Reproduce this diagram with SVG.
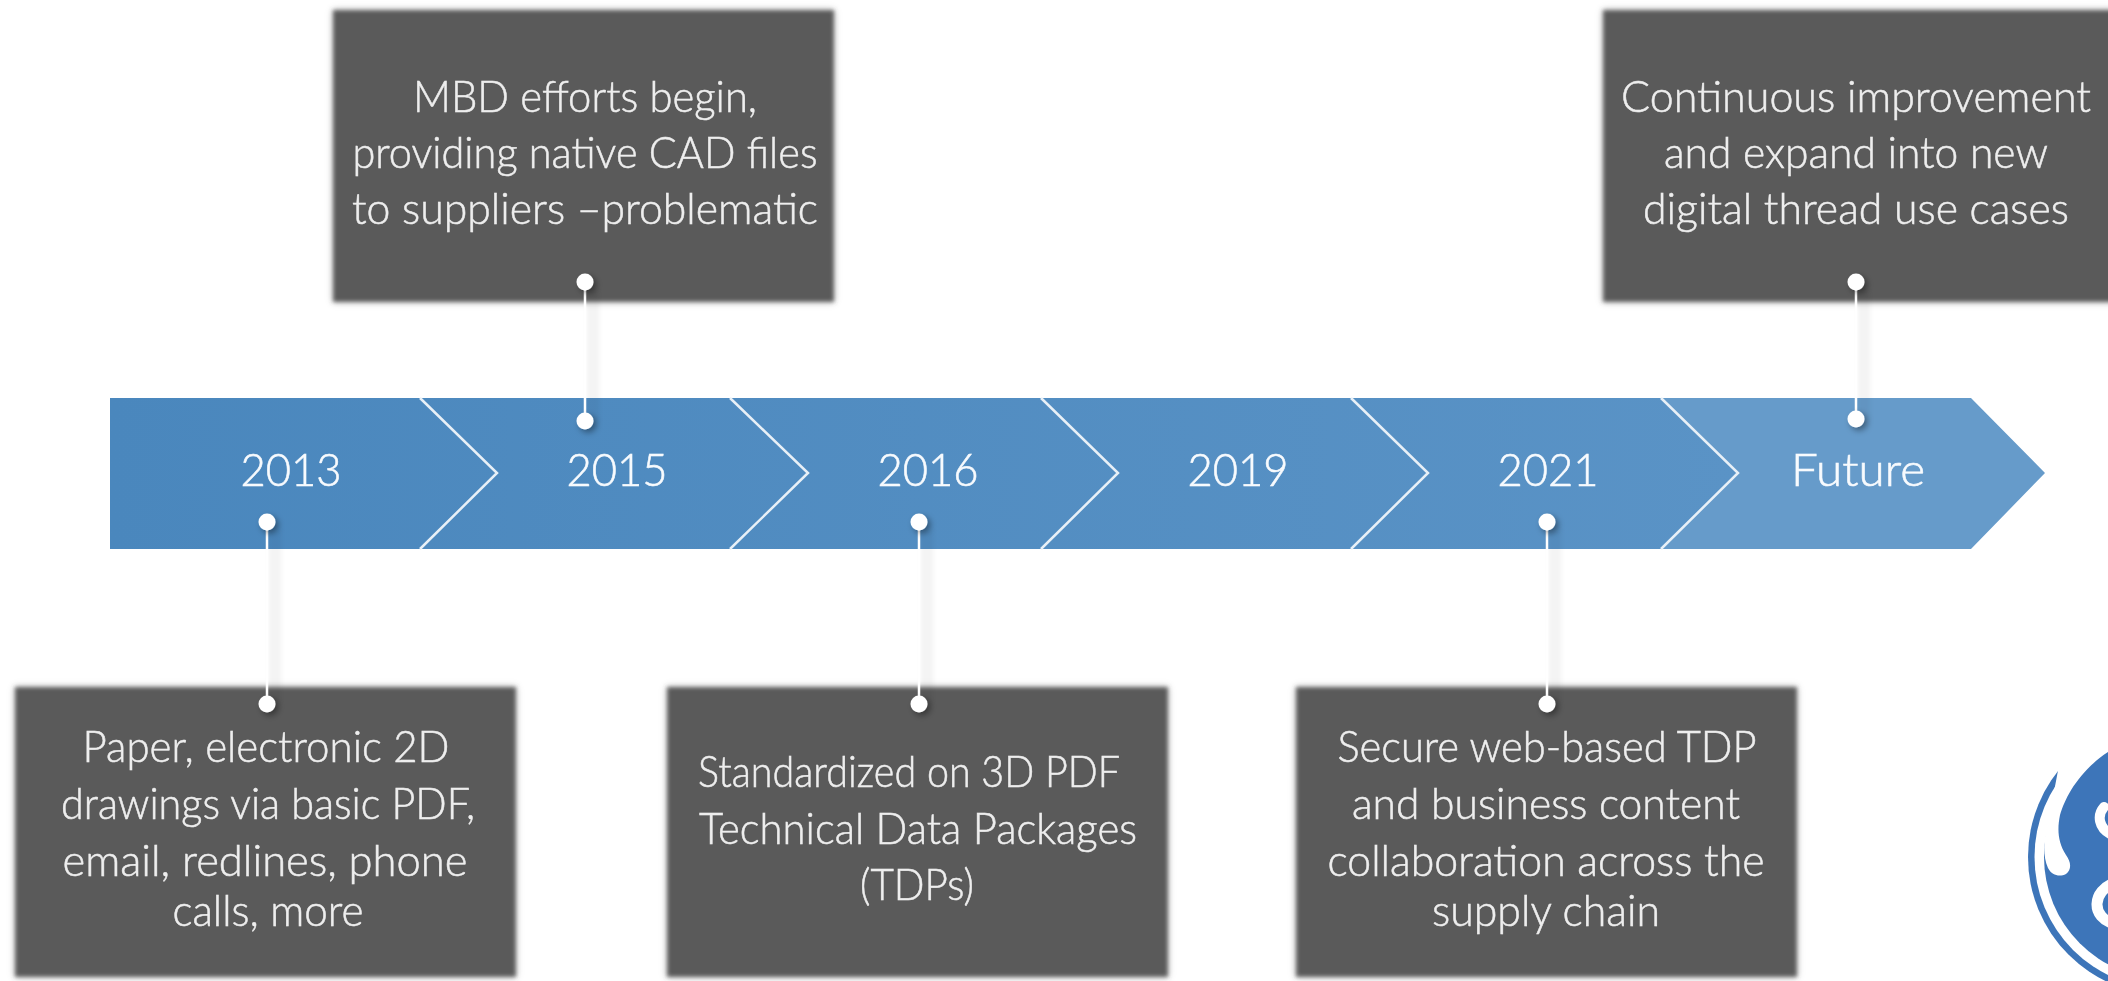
<svg xmlns="http://www.w3.org/2000/svg" width="2108" height="981" viewBox="0 0 2108 981">
<style>
text{font-family:Lato,"Liberation Sans",sans-serif;font-weight:300;text-anchor:middle;filter:url(#tb)}
.box{fill:#5a5a5a;filter:url(#soft)}
.t{fill:#eeeeee;stroke:#eeeeee;stroke-width:.5;font-size:43px}
.y{fill:#f8fbfe;stroke:#f8fbfe;stroke-width:.6;font-size:46px}
.dot{fill:#fff;filter:url(#ds)}
.ln{stroke:#fff;stroke-width:2.5}
.sh{stroke:#000;stroke-opacity:.045;stroke-width:13;filter:url(#b2);fill:none}
.sep{fill:none;stroke:#e8f0f7;stroke-width:2.5}
</style>
<defs>
<filter id="tb" x="-5%" y="-20%" width="110%" height="140%"><feGaussianBlur stdDeviation=".45"/></filter>
<filter id="soft" x="-5%" y="-5%" width="110%" height="110%"><feDropShadow dx="0" dy="0" stdDeviation="3" flood-color="#000" flood-opacity=".25"/><feGaussianBlur stdDeviation="2"/></filter>
<filter id="b2" filterUnits="userSpaceOnUse" x="0" y="0" width="2108" height="981"><feGaussianBlur stdDeviation="2"/></filter>
<filter id="ds" x="-100%" y="-100%" width="300%" height="300%"><feDropShadow dx="3" dy="3" stdDeviation="3" flood-color="#000" flood-opacity=".4"/></filter>
<linearGradient id="band" gradientUnits="userSpaceOnUse" x1="110" y1="0" x2="1738" y2="0"><stop offset="0" stop-color="#4a87bd"/><stop offset="1" stop-color="#5a93c6"/></linearGradient>
</defs>
<g id="band-arrow">
<path d="M110 398H1700L1738 473L1700 549H110Z" fill="url(#band)"/>
<path d="M1661 398H1971L2045 473L1971 549H1661L1738 473Z" fill="#669bca"/>
<path class="sep" d="M420 398L497 473L420 549M730 398L808 473L730 549M1041 398L1118 473L1041 549M1351 398L1428 473L1351 549M1661 398L1738 473L1661 549"/>
</g>
<g id="box-2013"><rect class="box" x="15" y="687" width="501" height="290"/><text class="t" x="266" y="762" textLength="367" lengthAdjust="spacingAndGlyphs">Paper, electronic 2D</text><text class="t" x="268" y="819" textLength="414" lengthAdjust="spacingAndGlyphs">drawings via basic PDF,</text><text class="t" x="265" y="876" textLength="405" lengthAdjust="spacingAndGlyphs">email, redlines, phone</text><text class="t" x="268" y="926" textLength="191" lengthAdjust="spacingAndGlyphs">calls, more</text></g>
<g id="box-2015"><rect class="box" x="333" y="10" width="501" height="292"/><text class="t" x="585" y="112" textLength="344" lengthAdjust="spacingAndGlyphs">MBD efforts begin,</text><text class="t" x="585" y="168" textLength="465" lengthAdjust="spacingAndGlyphs">providing native CAD files</text><text class="t" x="585" y="224" textLength="466" lengthAdjust="spacingAndGlyphs">to suppliers –problematic</text></g>
<g id="box-2016"><rect class="box" x="667" y="687" width="501" height="290"/><text class="t" x="909" y="787" textLength="422" lengthAdjust="spacingAndGlyphs">Standardized on 3D PDF</text><text class="t" x="918" y="844" textLength="438" lengthAdjust="spacingAndGlyphs">Technical Data Packages</text><text class="t" x="917" y="900" textLength="114" lengthAdjust="spacingAndGlyphs">(TDPs)</text></g>
<g id="box-2021"><rect class="box" x="1296" y="687" width="501" height="290"/><text class="t" x="1547" y="762" textLength="419" lengthAdjust="spacingAndGlyphs">Secure web-based TDP</text><text class="t" x="1546" y="819" textLength="388" lengthAdjust="spacingAndGlyphs">and business content</text><text class="t" x="1546" y="876" textLength="437" lengthAdjust="spacingAndGlyphs">collaboration across the</text><text class="t" x="1546" y="926" textLength="228" lengthAdjust="spacingAndGlyphs">supply chain</text></g>
<g id="box-future"><rect class="box" x="1603" y="10" width="520" height="292"/><text class="t" x="1856" y="112" textLength="470" lengthAdjust="spacingAndGlyphs">Continuous improvement</text><text class="t" x="1856" y="168" textLength="384" lengthAdjust="spacingAndGlyphs">and expand into new</text><text class="t" x="1856" y="224" textLength="426" lengthAdjust="spacingAndGlyphs">digital thread use cases</text></g>
<g id="labels">
<text class="y" x="291" y="486" textLength="101" lengthAdjust="spacingAndGlyphs">2013</text><text class="y" x="617" y="486" textLength="101" lengthAdjust="spacingAndGlyphs">2015</text><text class="y" x="928" y="486" textLength="101" lengthAdjust="spacingAndGlyphs">2016</text><text class="y" x="1238" y="486" textLength="101" lengthAdjust="spacingAndGlyphs">2019</text><text class="y" x="1548" y="486" textLength="101" lengthAdjust="spacingAndGlyphs">2021</text><text class="y" x="1858" y="486" textLength="134" lengthAdjust="spacingAndGlyphs">Future</text>
</g>
<g id="connectors">
<path class="sh" d="M275 530V704M593 290V421M927 530V704M1555 530V704M1864 290V419"/>
<path class="ln" d="M267 522V704M585 282V421M919 522V704M1547 522V704M1856 282V419"/>
<circle class="dot" cx="267" cy="522" r="8.5"/><circle class="dot" cx="267" cy="704" r="8.5"/>
<circle class="dot" cx="585" cy="282" r="8.5"/><circle class="dot" cx="585" cy="421" r="8.5"/>
<circle class="dot" cx="919" cy="522" r="8.5"/><circle class="dot" cx="919" cy="704" r="8.5"/>
<circle class="dot" cx="1547" cy="522" r="8.5"/><circle class="dot" cx="1547" cy="704" r="8.5"/>
<circle class="dot" cx="1856" cy="282" r="8.5"/><circle class="dot" cx="1856" cy="419" r="8.5"/>
</g>
<g id="logo">
<circle cx="2166" cy="857" r="138" fill="#3d75b9"/>
<circle cx="2166" cy="857" r="131.5" fill="#fff"/>
<circle cx="2166" cy="857" r="122" fill="#3d75b9"/>
<path fill="#fff" d="M2049 818C2044 835 2042 855 2048 868C2052 876 2060 877 2066 874C2072 869 2071 862 2066 855C2058 842 2057 830 2060 815C2066 795 2082 765 2120 745L2120 720L2060 760Z"/>
<path fill="none" stroke="#fff" stroke-width="10" stroke-linecap="round" d="M2104 807C2097 815 2098 828 2112 835"/>
<path fill="none" stroke="#fff" stroke-width="11" stroke-linecap="round" d="M2115 883C2092 890 2090 918 2115 924"/>
</g>
</svg>
